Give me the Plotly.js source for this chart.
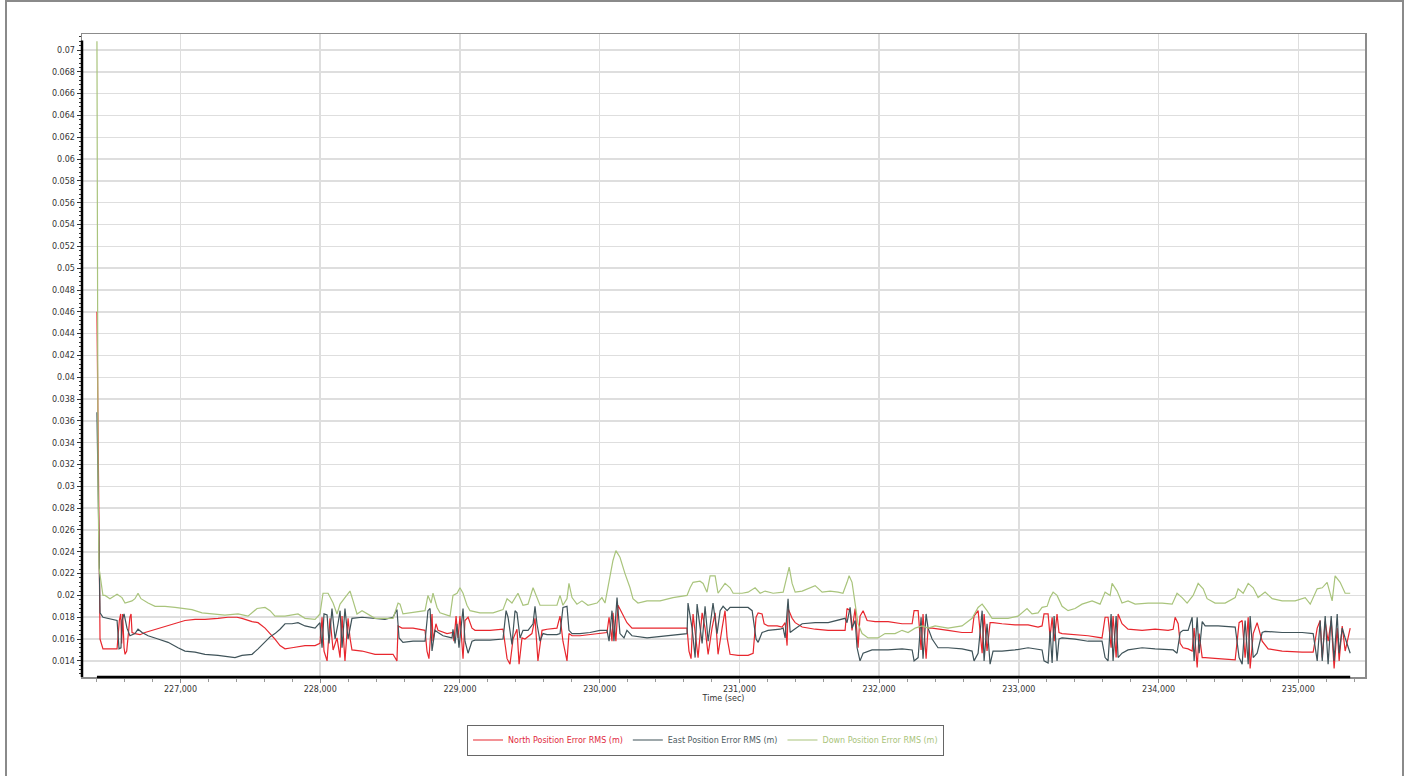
<!DOCTYPE html>
<html>
<head>
<meta charset="utf-8">
<script src="https://cdn.plot.ly/plotly-3.0.1.min.js"></script>
<style>
  html, body { margin: 0; padding: 0; background: #ffffff; overflow: hidden; }
  #chart { position: absolute; left: 0; top: 0; width: 1408px; height: 776px; }
  #frame { position: absolute; left: 5px; top: 0px; width: 1399px; height: 800px;
           border: 2px solid #8a8a8a; pointer-events: none; box-sizing: border-box; }
</style>
</head>
<body>
<div id="chart"></div>
<div id="frame"></div>
<script>
// ---------------- DATA ----------------
const seriesNames = ["North Position Error RMS (m)", "East Position Error RMS (m)", "Down Position Error RMS (m)"];

const northTime = [226402,226424,226445,226546,226562,226572,226579,226586,226596,226603,226615,226626,226638,226646,226653,226674,226710,226746,226796,226839,226911,226982,227032,227104,227175,227268,227340,227404,227440,227512,227555,227605,227641,227676,227712,227748,227798,227841,227891,227963,227998,228013,228027,228049,228070,228092,228120,228142,228156,228177,228199,228213,228227,228299,228392,228463,228521,228549,228557,228585,228664,228750,228764,228778,228800,228807,228828,228843,228907,228950,228957,228972,228986,229000,229022,229036,229058,229086,229108,229215,229308,229337,229358,229380,229408,229423,229444,229465,229515,229537,229558,229587,229623,229694,229716,229737,229766,229780,229802,229859,229930,230002,230052,230067,230088,230095,230116,230131,230160,230195,230231,230339,230482,230625,230639,230654,230668,230697,230704,230733,230754,230776,230804,230826,230847,230876,230897,230912,230933,230990,231062,231098,231119,231134,231162,231177,231205,231270,231305,231327,231341,231348,231377,231399,231449,231542,231635,231756,231770,231792,231806,231828,231849,231863,231885,231914,231971,232064,232164,232236,232250,232279,232300,232314,232336,232350,232379,232493,232593,232665,232679,232708,232737,232751,232772,232794,232815,232879,232972,233066,233137,233166,233180,233209,233223,233238,233252,233273,233287,233309,233402,233495,233595,233617,233638,233660,233674,233696,233710,233738,233781,233882,233975,234068,234104,234118,234140,234154,234175,234211,234240,234254,234276,234290,234312,234333,234426,234548,234576,234598,234619,234641,234655,234677,234705,234741,234784,234884,235027,235106,235135,235156,235171,235192,235213,235235,235256,235278,235292,235314,235335,235371];
const northValue = [0.0460,0.0160,0.0151,0.0151,0.0177,0.0183,0.0156,0.0183,0.0152,0.0146,0.0149,0.0165,0.0180,0.0183,0.0166,0.0165,0.0164,0.0166,0.0168,0.0169,0.0172,0.0175,0.0177,0.0178,0.0178,0.0179,0.0180,0.0180,0.0179,0.0176,0.0175,0.0170,0.0165,0.0160,0.0154,0.0151,0.0152,0.0153,0.0154,0.0154,0.0156,0.0180,0.0149,0.0140,0.0179,0.0150,0.0161,0.0143,0.0181,0.0140,0.0179,0.0161,0.0150,0.0149,0.0146,0.0146,0.0146,0.0140,0.0172,0.0170,0.0170,0.0168,0.0149,0.0142,0.0183,0.0158,0.0174,0.0168,0.0165,0.0166,0.0158,0.0181,0.0161,0.0181,0.0142,0.0177,0.0180,0.0170,0.0168,0.0168,0.0169,0.0142,0.0137,0.0160,0.0169,0.0137,0.0161,0.0160,0.0165,0.0179,0.0140,0.0168,0.0169,0.0170,0.0181,0.0158,0.0140,0.0165,0.0163,0.0163,0.0164,0.0165,0.0166,0.0180,0.0158,0.0184,0.0158,0.0191,0.0184,0.0175,0.0170,0.0170,0.0170,0.0170,0.0149,0.0142,0.0183,0.0150,0.0143,0.0184,0.0170,0.0146,0.0170,0.0184,0.0146,0.0170,0.0186,0.0161,0.0146,0.0145,0.0145,0.0147,0.0180,0.0184,0.0183,0.0174,0.0172,0.0172,0.0171,0.0175,0.0154,0.0188,0.0179,0.0175,0.0171,0.0169,0.0168,0.0168,0.0188,0.0186,0.0168,0.0188,0.0152,0.0181,0.0186,0.0177,0.0176,0.0176,0.0174,0.0174,0.0186,0.0186,0.0150,0.0183,0.0142,0.0170,0.0170,0.0168,0.0166,0.0166,0.0181,0.0186,0.0147,0.0183,0.0149,0.0175,0.0175,0.0174,0.0173,0.0173,0.0171,0.0172,0.0183,0.0183,0.0162,0.0180,0.0158,0.0183,0.0166,0.0165,0.0164,0.0163,0.0161,0.0180,0.0180,0.0152,0.0181,0.0143,0.0183,0.0174,0.0169,0.0168,0.0169,0.0168,0.0169,0.0180,0.0174,0.0156,0.0152,0.0151,0.0149,0.0170,0.0134,0.0165,0.0143,0.0143,0.0142,0.0141,0.0175,0.0177,0.0143,0.0180,0.0133,0.0165,0.0175,0.0158,0.0151,0.0149,0.0148,0.0148,0.0170,0.0177,0.0143,0.0176,0.0158,0.0177,0.0133,0.0170,0.0140,0.0172,0.0149,0.0170];

const eastTime = [226402,226424,226445,226481,226546,226560,226574,226581,226596,226617,226638,226674,226696,226725,226768,226839,226911,226982,227032,227104,227175,227268,227340,227390,227440,227512,227555,227605,227641,227676,227712,227748,227798,227841,227891,227963,227998,228013,228027,228049,228063,228084,228106,228127,228142,228156,228177,228199,228227,228299,228392,228463,228521,228549,228564,228592,228664,228750,228771,228786,228800,228821,228843,228879,228943,228950,228965,228979,228993,229022,229036,229058,229086,229108,229215,229308,229330,229344,229372,229394,229408,229430,229451,229487,229523,229537,229551,229573,229594,229623,229694,229716,229737,229766,229780,229802,229859,229930,230002,230052,230067,230088,230102,230124,230145,230174,230195,230231,230339,230482,230625,230632,230661,230683,230697,230733,230754,230776,230811,230840,230862,230883,230912,230933,230990,231062,231091,231119,231134,231162,231205,231291,231313,231327,231348,231363,231384,231449,231542,231635,231756,231770,231792,231806,231828,231842,231863,231885,231949,232064,232164,232236,232250,232279,232300,232314,232336,232350,232379,232421,232493,232593,232665,232679,232708,232737,232751,232772,232794,232815,232879,232972,233066,233137,233166,233180,233209,233223,233238,233252,233273,233287,233309,233402,233495,233595,233617,233638,233660,233674,233696,233710,233738,233781,233882,233975,234068,234104,234132,234154,234175,234211,234240,234254,234276,234290,234312,234333,234426,234548,234576,234598,234619,234641,234655,234677,234705,234741,234762,234884,235027,235106,235135,235156,235171,235192,235213,235235,235256,235278,235292,235314,235335,235371];
const eastValue = [0.0368,0.0184,0.0180,0.0179,0.0177,0.0151,0.0152,0.0177,0.0183,0.0170,0.0163,0.0165,0.0169,0.0166,0.0163,0.0160,0.0157,0.0152,0.0149,0.0148,0.0146,0.0145,0.0144,0.0143,0.0145,0.0146,0.0151,0.0157,0.0162,0.0165,0.0169,0.0174,0.0174,0.0175,0.0172,0.0170,0.0175,0.0152,0.0183,0.0182,0.0156,0.0188,0.0160,0.0174,0.0186,0.0152,0.0188,0.0160,0.0179,0.0180,0.0179,0.0178,0.0180,0.0187,0.0161,0.0157,0.0158,0.0158,0.0186,0.0188,0.0149,0.0168,0.0166,0.0163,0.0161,0.0169,0.0156,0.0174,0.0152,0.0188,0.0158,0.0147,0.0158,0.0159,0.0159,0.0160,0.0186,0.0180,0.0155,0.0186,0.0184,0.0161,0.0168,0.0168,0.0174,0.0190,0.0174,0.0158,0.0165,0.0164,0.0164,0.0165,0.0189,0.0190,0.0168,0.0165,0.0165,0.0166,0.0168,0.0168,0.0158,0.0186,0.0158,0.0198,0.0165,0.0161,0.0168,0.0163,0.0161,0.0163,0.0165,0.0193,0.0170,0.0143,0.0192,0.0156,0.0190,0.0158,0.0193,0.0165,0.0186,0.0190,0.0186,0.0189,0.0189,0.0189,0.0186,0.0160,0.0157,0.0166,0.0168,0.0169,0.0170,0.0161,0.0197,0.0166,0.0168,0.0174,0.0175,0.0175,0.0179,0.0175,0.0189,0.0170,0.0177,0.0152,0.0140,0.0147,0.0150,0.0150,0.0151,0.0150,0.0140,0.0143,0.0180,0.0142,0.0183,0.0170,0.0160,0.0152,0.0152,0.0151,0.0149,0.0140,0.0147,0.0186,0.0140,0.0174,0.0137,0.0149,0.0149,0.0150,0.0152,0.0151,0.0150,0.0140,0.0138,0.0167,0.0138,0.0181,0.0140,0.0160,0.0161,0.0160,0.0158,0.0158,0.0143,0.0140,0.0183,0.0140,0.0181,0.0143,0.0147,0.0150,0.0152,0.0151,0.0150,0.0150,0.0147,0.0166,0.0168,0.0168,0.0180,0.0140,0.0180,0.0147,0.0176,0.0172,0.0172,0.0171,0.0143,0.0137,0.0177,0.0137,0.0181,0.0143,0.0147,0.0166,0.0167,0.0166,0.0166,0.0165,0.0140,0.0177,0.0140,0.0181,0.0137,0.0181,0.0140,0.0183,0.0147,0.0170,0.0161,0.0147];

const downTime = [226402,226410,226417,226431,226445,226460,226495,226546,226581,226603,226653,226674,226696,226717,226768,226818,226889,226961,227011,227082,227154,227225,227318,227412,227483,227548,227605,227641,227676,227748,227841,227891,227963,227998,228020,228056,228092,228120,228142,228177,228213,228235,228263,228299,228342,228392,228463,228521,228557,228571,228592,228642,228750,228771,228793,228807,228836,228857,228929,228950,228979,229000,229022,229050,229072,229143,229237,229308,229337,229372,229394,229415,229451,229487,229523,229551,229573,229623,229694,229716,229737,229766,229780,229802,229837,229873,229916,229981,230016,230038,230067,230095,230116,230145,230181,230217,230238,230274,230339,230432,230525,230625,230647,230668,230718,230740,230768,230790,230826,230847,230897,230933,230955,231019,231062,231112,231148,231184,231241,231313,231341,231356,231377,231399,231449,231485,231542,231592,231649,231706,231741,231770,231785,231806,231828,231849,231878,231921,231992,232042,232114,232164,232207,232257,232307,232350,232400,232493,232593,232665,232708,232737,232772,232808,232851,232922,232994,233058,233094,233137,233166,233202,233223,233245,233273,233309,233352,233402,233452,233524,233581,233617,233653,233667,233703,233738,233781,233832,233925,234025,234097,234132,234168,234204,234247,234283,234319,234347,234404,234476,234548,234569,234605,234641,234677,234712,234762,234813,234884,234977,235049,235085,235135,235171,235206,235242,235263,235299,235335,235371];
const downValue = [0.0708,0.0300,0.0225,0.0213,0.0200,0.0200,0.0197,0.0201,0.0198,0.0193,0.0195,0.0197,0.0202,0.0197,0.0193,0.0190,0.0190,0.0189,0.0188,0.0187,0.0184,0.0183,0.0182,0.0183,0.0181,0.0188,0.0189,0.0186,0.0181,0.0181,0.0183,0.0179,0.0178,0.0183,0.0202,0.0202,0.0193,0.0183,0.0192,0.0198,0.0204,0.0195,0.0183,0.0186,0.0183,0.0179,0.0179,0.0179,0.0193,0.0192,0.0183,0.0184,0.0186,0.0200,0.0193,0.0202,0.0189,0.0184,0.0181,0.0200,0.0202,0.0207,0.0202,0.0191,0.0186,0.0184,0.0184,0.0187,0.0197,0.0193,0.0198,0.0202,0.0191,0.0192,0.0207,0.0198,0.0191,0.0191,0.0191,0.0200,0.0191,0.0197,0.0211,0.0198,0.0192,0.0195,0.0191,0.0193,0.0198,0.0193,0.0213,0.0232,0.0241,0.0235,0.0220,0.0207,0.0197,0.0193,0.0195,0.0195,0.0198,0.0200,0.0207,0.0212,0.0213,0.0211,0.0203,0.0218,0.0218,0.0202,0.0211,0.0207,0.0202,0.0202,0.0203,0.0207,0.0202,0.0204,0.0202,0.0203,0.0218,0.0226,0.0211,0.0203,0.0204,0.0206,0.0209,0.0203,0.0204,0.0203,0.0202,0.0212,0.0218,0.0212,0.0191,0.0174,0.0165,0.0161,0.0161,0.0165,0.0165,0.0168,0.0166,0.0170,0.0172,0.0170,0.0172,0.0170,0.0172,0.0179,0.0189,0.0192,0.0186,0.0179,0.0179,0.0179,0.0181,0.0188,0.0183,0.0184,0.0189,0.0190,0.0198,0.0203,0.0200,0.0190,0.0186,0.0188,0.0192,0.0195,0.0192,0.0203,0.0200,0.0211,0.0204,0.0193,0.0195,0.0192,0.0193,0.0193,0.0192,0.0202,0.0198,0.0193,0.0200,0.0211,0.0206,0.0197,0.0193,0.0193,0.0198,0.0206,0.0202,0.0211,0.0207,0.0198,0.0203,0.0197,0.0195,0.0195,0.0198,0.0192,0.0206,0.0207,0.0212,0.0195,0.0218,0.0212,0.0202,0.0202];

const xTickVals = [227000, 228000, 229000, 230000, 231000, 232000, 233000, 234000, 235000];
const xTickText = ["227,000", "228,000", "229,000", "230,000", "231,000", "232,000", "233,000", "234,000", "235,000"];
const yTickVals = [0.014,0.016,0.018,0.02,0.022,0.024,0.026,0.028,0.03,0.032,0.034,0.036,0.038,0.04,0.042,0.044,0.046,0.048,0.05,0.052,0.054,0.056,0.058,0.06,0.062,0.064,0.066,0.068,0.07];
const yTickText = ["0.014","0.016","0.018","0.02","0.022","0.024","0.026","0.028","0.03","0.032","0.034","0.036","0.038","0.04","0.042","0.044","0.046","0.048","0.05","0.052","0.054","0.056","0.058","0.06","0.062","0.064","0.066","0.068","0.07"];
const xRange = [226295, 235477];
const yRange = [0.01252, 0.07147];

// ---------------- STYLE ----------------
const colors = ["#e8272e", "#3f5359", "#a9c47c"];
const legendTextColors = ["#e0283c", "#4d5c62", "#a9c47c"];
const font = "DejaVu Sans, Verdana, sans-serif";

const traces = [
  {x: northTime, y: northValue},
  {x: eastTime, y: eastValue},
  {x: downTime, y: downValue}
].map((d, i) => ({
  type: "scatter", mode: "lines", x: d.x, y: d.y,
  name: '<span style="color:' + legendTextColors[i] + '">' + seriesNames[i] + '</span>',
  line: {color: colors[i], width: 1.2},
  hoverinfo: "x+y"
}));

const tStart = Math.min(northTime[0], eastTime[0], downTime[0]);
const tEnd = Math.max(northTime[northTime.length - 1], eastTime[eastTime.length - 1], downTime[downTime.length - 1]);

const layout = {
  width: 1408, height: 776,
  margin: {l: 82, r: 43, t: 34, b: 99},
  paper_bgcolor: "#ffffff", plot_bgcolor: "#ffffff",
  font: {family: font, size: 8, color: "#333333"},
  showlegend: true,
  legend: {
    orientation: "h", x: 0.486, xanchor: "center", y: -0.098, yanchor: "middle",
    bordercolor: "#666666", borderwidth: 1, bgcolor: "#ffffff",
    font: {family: font, size: 8}, itemwidth: 30, tracegroupgap: 0
  },
  xaxis: {
    range: xRange, tickmode: "array", tickvals: xTickVals, ticktext: xTickText,
    showgrid: true, gridcolor: "#dedede", gridwidth: 1.5,
    showline: true, linecolor: "#8c8c8c", linewidth: 1.5, mirror: true,
    ticks: "outside", ticklen: 4, tickcolor: "#8c8c8c",
    minor: {dtick: 200, ticks: "outside", ticklen: 3, tickcolor: "#9a9a9a", showgrid: false},
    zeroline: false,
    tickfont: {family: font, size: 8, color: "#333333"},
    title: {text: "Time (sec)", font: {family: font, size: 8, color: "#333333"}, standoff: 2}
  },
  yaxis: {
    range: yRange, tickmode: "array", tickvals: yTickVals, ticktext: yTickText,
    showgrid: true, gridcolor: "#dedede", gridwidth: 1.5,
    showline: true, linecolor: "#8c8c8c", linewidth: 1.5, mirror: true,
    ticks: "outside", ticklen: 4, tickcolor: "#333333",
    minor: {dtick: 0.0004, ticks: "outside", ticklen: 2, tickcolor: "#333333", showgrid: false},
    zeroline: false,
    tickfont: {family: font, size: 8, color: "#333333"}
  },
  shapes: [
    {type: "line", xref: "paper", yref: "paper", x0: 0, x1: 0, y0: 0, y1: 0.99,
     line: {color: "#000000", width: 2.5}},
    {type: "line", xref: "x", yref: "paper", x0: tStart, x1: tEnd, y0: 0, y1: 0,
     line: {color: "#000000", width: 2.5}}
  ]
};

Plotly.newPlot("chart", traces, layout, {staticPlot: true, displayModeBar: false});
</script>
</body>
</html>
